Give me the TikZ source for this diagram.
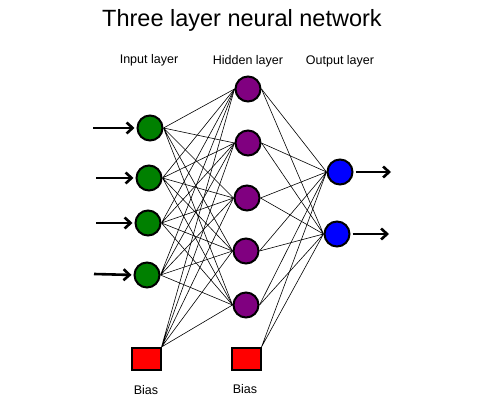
\documentclass[tikz,border=0pt]{standalone}
\usepackage{fontspec}
\setmainfont{Liberation Sans}
\usetikzlibrary{arrows.meta}
\definecolor{inputgreen}{RGB}{0,128,0}
\definecolor{hiddenpurple}{RGB}{128,0,128}
\begin{document}
\begin{tikzpicture}[x=1pt,y=-1pt,
    neuron/.style={circle,draw=black,line width=2pt,minimum size=25pt,inner sep=0pt},
    biasbox/.style={rectangle,draw=black,line width=2pt,fill=red,minimum width=29pt,minimum height=22pt,inner sep=0pt},
    weight/.style={line width=0.6pt},
    signal/.style={line width=2.6pt,-{Straight Barb[length=6pt,width=11pt]}},
    caption/.style={font=\fontsize{12.5}{15}\selectfont}]
  \useasboundingbox (0,0) rectangle (488,417);
  % 标题与层名
  \node[font=\fontsize{23.5}{27}\selectfont] (title) at (242,20) {Three layer neural network};
  \node[caption] (inlab)  at (149,60) {Input layer};
  \node[caption] (hidlab) at (248,61) {Hidden layer};
  \node[caption] (outlab) at (340,61) {Output layer};
  % 输入层（绿色）
  \node[neuron,fill=inputgreen] (i1) at (150,128) {};
  \node[neuron,fill=inputgreen] (i2) at (149,178) {};
  \node[neuron,fill=inputgreen] (i3) at (148,223) {};
  \node[neuron,fill=inputgreen] (i4) at (147,275) {};
  % 隐藏层（紫色）
  \node[neuron,fill=hiddenpurple] (h1) at (248,89) {};
  \node[neuron,fill=hiddenpurple] (h2) at (248,143) {};
  \node[neuron,fill=hiddenpurple] (h3) at (247,198) {};
  \node[neuron,fill=hiddenpurple] (h4) at (246,251) {};
  \node[neuron,fill=hiddenpurple] (h5) at (246,305) {};
  % 输出层（蓝色）
  \node[neuron,fill=blue] (o1) at (340,172) {};
  \node[neuron,fill=blue] (o2) at (337,234) {};
  % 偏置
  \node[biasbox] (b1) at (146,359) {};
  \node[biasbox] (b2) at (246,359) {};
  \node[caption] (b1lab) at (146,390) {Bias};
  \node[caption] (b2lab) at (245,389) {Bias};
  % 输入 -> 隐藏
  \draw[weight] (i1.east) -- (h1.west) (i1.east) -- (h2.west) (i1.east) -- (h3.west) (i1.east) -- (h4.west) (i1.east) -- (h5.west);
  \draw[weight] (i2.east) -- (h1.west) (i2.east) -- (h2.west) (i2.east) -- (h3.west) (i2.east) -- (h4.west) (i2.east) -- (h5.west);
  \draw[weight] (i3.east) -- (h1.west) (i3.east) -- (h2.west) (i3.east) -- (h3.west) (i3.east) -- (h4.west) (i3.east) -- (h5.west);
  \draw[weight] (i4.east) -- (h1.west) (i4.east) -- (h2.west) (i4.east) -- (h3.west) (i4.east) -- (h4.west) (i4.east) -- (h5.west);
  \draw[weight] (b1.north east) -- (h1.west) (b1.north east) -- (h2.west) (b1.north east) -- (h3.west) (b1.north east) -- (h4.west) (b1.north east) -- (h5.west);
  % 隐藏 -> 输出
  \draw[weight] (h1.east) -- (o1.west) (h2.east) -- (o1.west) (h3.east) -- (o1.west) (h4.east) -- (o1.west) (h5.east) -- (o1.west);
  \draw[weight] (h1.east) -- (o2.west) (h2.east) -- (o2.west) (h3.east) -- (o2.west) (h4.east) -- (o2.west) (h5.east) -- (o2.west);
  \draw[weight] (b2.north east) -- (o1.west) (b2.north east) -- (o2.west);
  % 输入与输出箭头
  \coordinate (x1) at (93,128);
  \coordinate (x2) at (96,178);
  \coordinate (x3) at (96,223);
  \coordinate (x4) at (94,274);
  \coordinate (y1) at (391,172);
  \coordinate (y2) at (389,234);
  \draw[signal,shorten >=2pt] (x1) -- (i1.west);
  \draw[signal,shorten >=2pt] (x2) -- (i2.west);
  \draw[signal,shorten >=2pt] (x3) -- (i3.west);
  \draw[signal,shorten >=2pt] (x4) -- (i4.west);
  \draw[signal,shorten <=2pt] (o1.east) -- (y1);
  \draw[signal,shorten <=2pt] (o2.east) -- (y2);
\end{tikzpicture}
\end{document}
